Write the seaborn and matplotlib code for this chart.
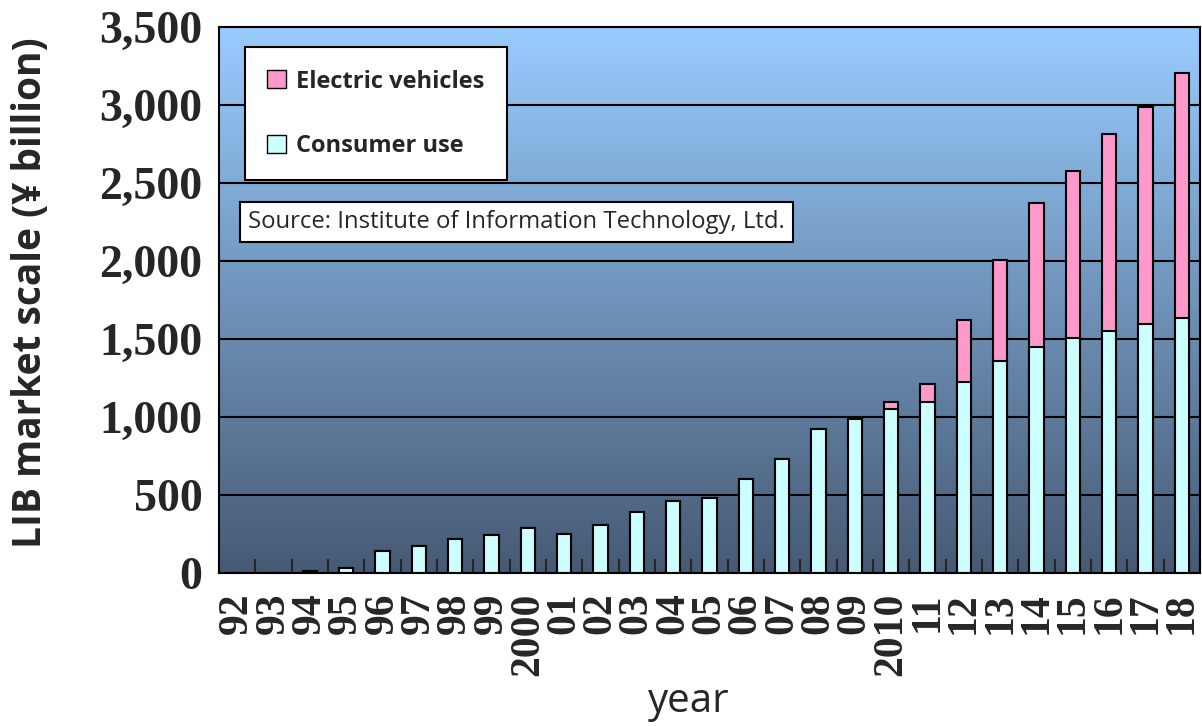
import numpy as np
import pandas as pd
import matplotlib
matplotlib.use("Agg")
import matplotlib.pyplot as plt
import seaborn as sns
import matplotlib.patches as mpatches
import matplotlib.ticker as mticker
from matplotlib.colors import LinearSegmentedColormap

# LIB market scale, 1992-2018 (yen billion)
years = ['92', '93', '94', '95', '96', '97', '98', '99', '2000', '01', '02', '03', '04',
         '05', '06', '07', '08', '09', '2010', '11', '12', '13', '14', '15', '16', '17', '18']
consumer = [0, 0, 10, 30, 138, 172, 218, 242, 288, 252, 309, 392, 462,
            483, 602, 733, 920, 990, 1050, 1098, 1226, 1356, 1448, 1505, 1551, 1595, 1633]
electric = [0, 0, 0, 0, 0, 0, 0, 0, 0, 0, 0, 0, 0,
            0, 0, 0, 0, 0, 46, 115, 396, 651, 922, 1074, 1261, 1391, 1575]
y_ticks = [0, 500, 1000, 1500, 2000, 2500, 3000, 3500]

df = pd.DataFrame({'year': years, 'consumer': consumer, 'electric': electric})
df['total'] = df['consumer'] + df['electric']

sns.set_style("white")
plt.rcParams['font.family'] = ['Open Sans', 'DejaVu Sans']

fig = plt.figure(figsize=(12.02, 7.27), dpi=100)
fig.patch.set_facecolor('white')
pos = [0.1822, 0.2118, 0.8161, 0.7511]

# gradient background in its own axes behind the bars
bg = fig.add_axes(pos, zorder=0)
bg_cmap = LinearSegmentedColormap.from_list('bg', ['#465A74', '#99CCFF'])
bg.imshow(np.linspace(0, 1, 256).reshape(-1, 1), cmap=bg_cmap, aspect='auto',
          origin='lower', extent=[0, 1, 0, 1])
bg.axis('off')

ax = fig.add_axes(pos, zorder=1)
ax.patch.set_alpha(0)

# stacked bars: draw totals (pink) then consumer (cyan) over them
sns.barplot(data=df, x='year', y='total', color='#FF99CC', saturation=1,
            edgecolor='black', linewidth=1.5, width=0.4, ax=ax)
sns.barplot(data=df, x='year', y='consumer', color='#CCFFFF', saturation=1,
            edgecolor='black', linewidth=1.5, width=0.4, ax=ax)

ax.set_xlim(-0.5, len(years) - 0.5)
ax.set_ylim(0, 3500)
ax.set_yticks(y_ticks)
ax.yaxis.set_major_formatter(mticker.FuncFormatter(lambda v, p: f"{int(v):,}"))
ax.yaxis.grid(True, color='black', linewidth=1.5)
ax.set_axisbelow(True)

for s in ax.spines.values():
    s.set_color('black')
    s.set_linewidth(1.5)

ax.set_yticklabels([f"{v:,}" for v in y_ticks],
                   fontdict=dict(family='Liberation Serif', weight='bold', size=33))
ax.set_xticks(range(len(years)))
ax.set_xticklabels(years, rotation=90, va='top',
                   fontdict=dict(family='Liberation Serif', weight='bold', size=30))
ax.tick_params(axis='x', which='major', length=0, pad=14)
ax.tick_params(axis='y', which='major', length=6, direction='in', width=1.5, pad=12)
ax.set_xticks(np.arange(-0.5, len(years), 1), minor=True)
ax.tick_params(axis='x', which='minor', length=10, direction='in', width=1.5, bottom=True)

ax.set_ylabel("LIB market scale (¥ billion)", fontsize=28, fontweight='bold')
ax.yaxis.set_label_coords(-0.172, 0.514)
ax.set_xlabel("year", fontsize=29)
ax.xaxis.set_label_coords(0.479, -0.198)

handles = [mpatches.Patch(facecolor='#FF99CC', edgecolor='black', label='Electric vehicles'),
           mpatches.Patch(facecolor='#CCFFFF', edgecolor='black', label='Consumer use')]
leg = ax.legend(handles=handles, loc='upper left', bbox_to_anchor=(0.0265, 0.963),
                borderaxespad=0, fancybox=False, framealpha=1, edgecolor='black',
                prop=dict(family='Open Sans', weight='bold', size=17), labelspacing=1.7,
                handlelength=0.8, handleheight=0.8, handletextpad=0.4,
                borderpad=0.95)
leg.get_frame().set_linewidth(1.5)

ax.text(0.0296, 0.643, "Source: Institute of Information Technology, Ltd.",
        transform=ax.transAxes, fontsize=17.2, va='center', ha='left',
        bbox=dict(boxstyle='square,pad=0.35', facecolor='white', edgecolor='black', linewidth=1.5))

fig.savefig("out.png", dpi=100)
